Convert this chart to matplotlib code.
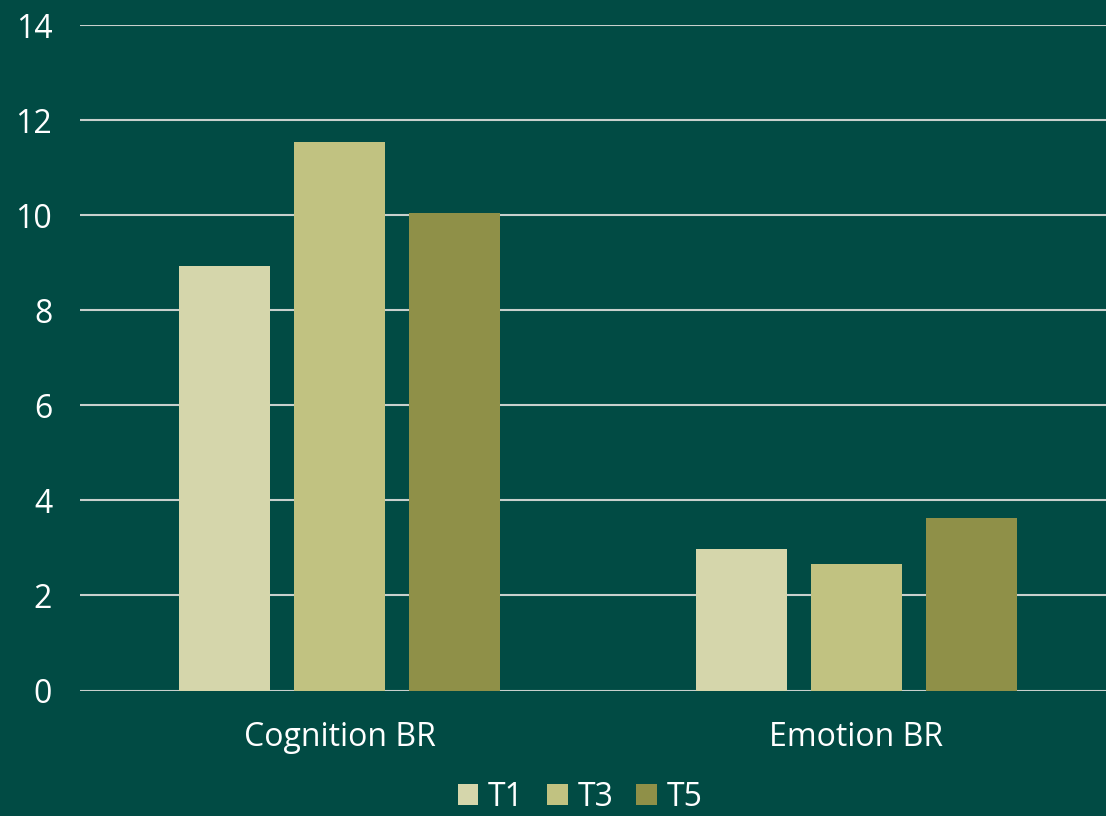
import numpy as np
import matplotlib
matplotlib.use('Agg')
import matplotlib.pyplot as plt

categories = ['Cognition BR', 'Emotion BR']
series_names = ['T1', 'T3', 'T5']
t1 = [8.94, 2.98]
t3 = [11.53, 2.66]
t5 = [10.05, 3.63]
yticks = [0, 2, 4, 6, 8, 10, 12, 14]

bg = '#014b44'
colors = ['#d5d6ab', '#c1c281', '#8f9048']

plt.rcParams['font.family'] = ['Open Sans', 'DejaVu Sans']

fig = plt.figure(figsize=(11.06, 8.16), dpi=100, facecolor=bg)
ax = fig.add_axes([80 / 1106, 1 - 690.5 / 816, 1 - 80 / 1106, (690.5 - 25) / 816])
ax.set_facecolor(bg)

x = np.arange(len(categories))
w = 0.176
step = 0.2224
for i, (vals, name) in enumerate(zip([t1, t3, t5], series_names)):
    ax.bar(x + (i - 1) * step, vals, width=w, color=colors[i], label=name, zorder=3)

ax.set_xlim(-0.502, 1.483)
ax.set_ylim(0, 14)
ax.set_yticks(yticks)
ax.set_xticks(x)
ax.set_xticklabels(categories)
ax.grid(axis='y', color='#c8d0cd', linewidth=1.5, zorder=0)
for s in ax.spines.values():
    s.set_visible(False)
ax.tick_params(axis='both', length=0, colors='white', labelsize=23)
ax.tick_params(axis='y', pad=20)
ax.tick_params(axis='x', pad=22)

# legend kept just inside the bottom edge
leg = fig.legend(loc='center', bbox_to_anchor=(580 / 1106, 1 - 797 / 816), ncol=3,
                 frameon=False, fontsize=23, handlelength=0.65, handleheight=0.65,
                 handletextpad=0.3, columnspacing=0.72, labelcolor='white',
                 borderpad=0.1)

fig.savefig('out.png', dpi=100, facecolor=bg)
